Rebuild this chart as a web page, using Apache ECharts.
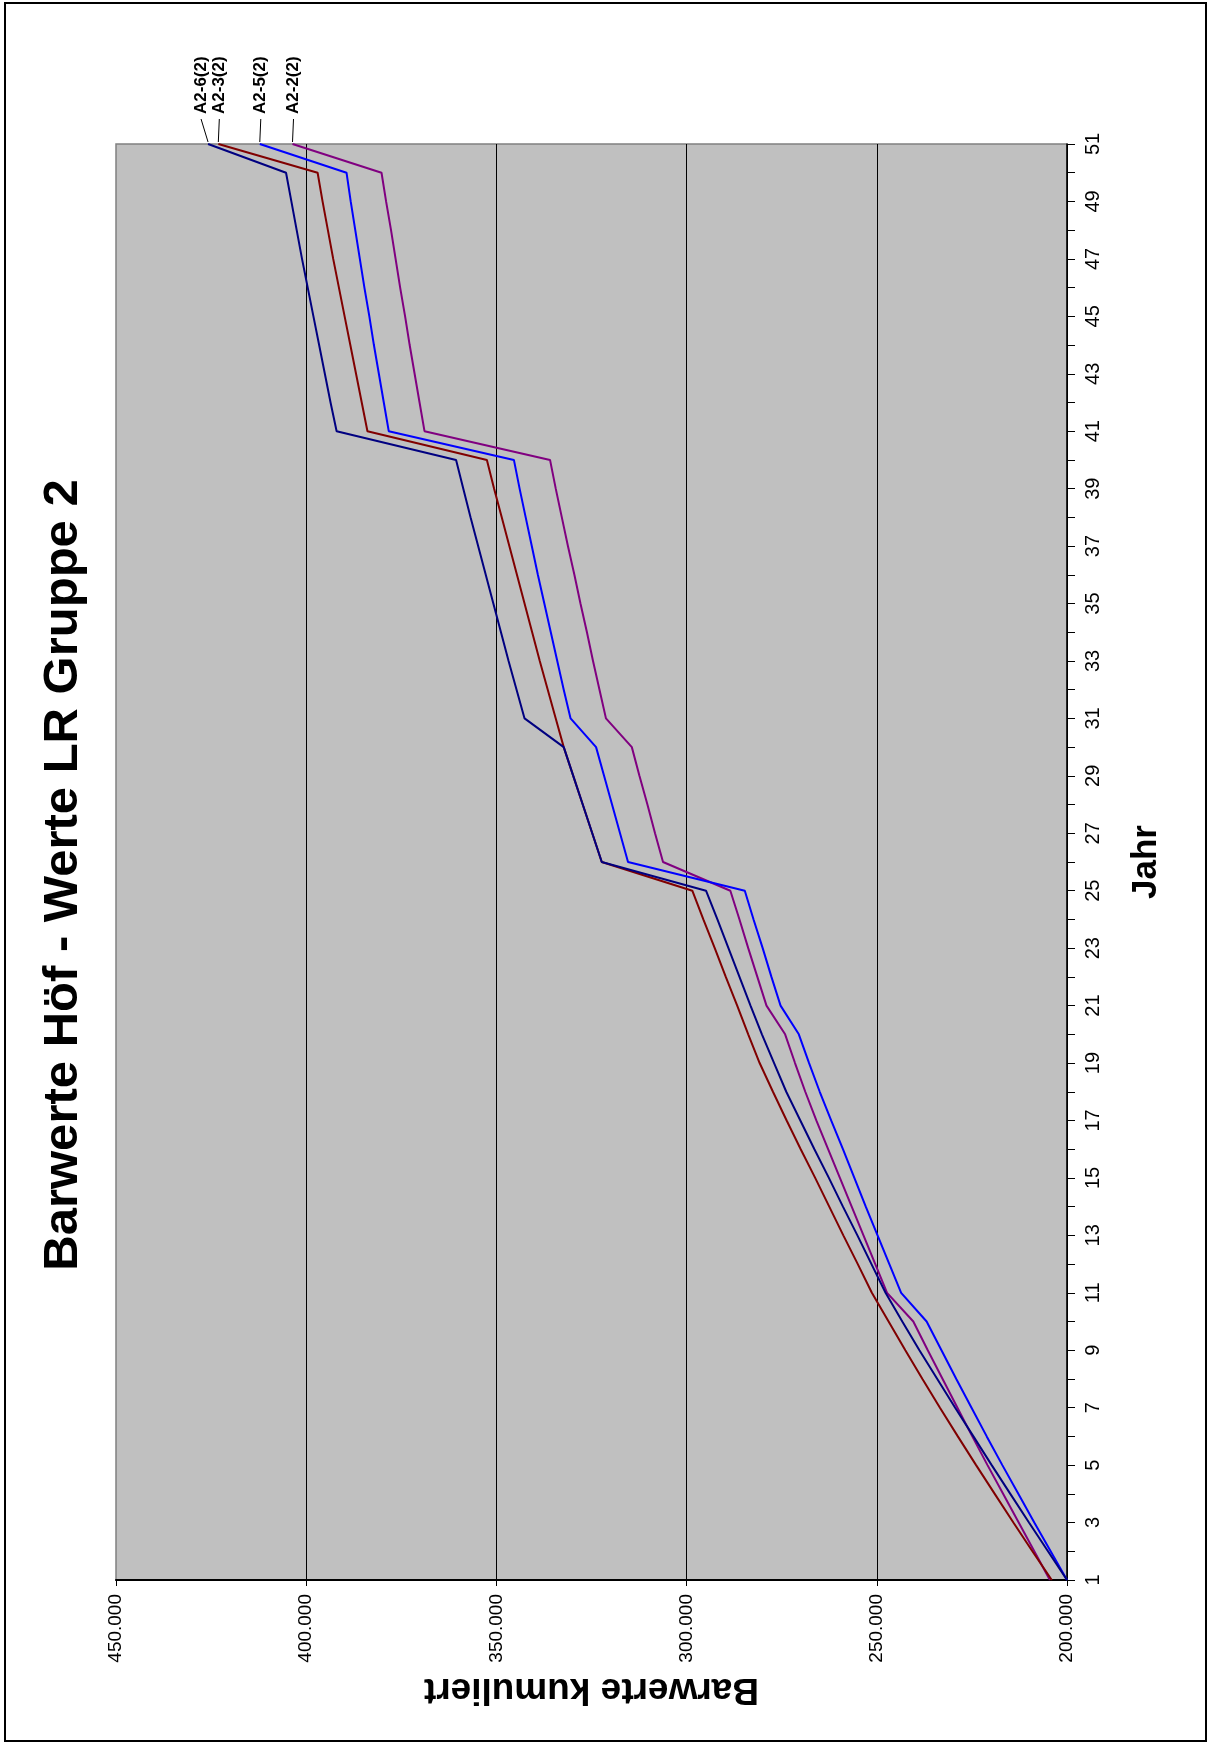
<!DOCTYPE html>
<html><head><meta charset="utf-8">
<script src="https://cdn.jsdelivr.net/npm/echarts@6/dist/echarts.min.js"></script>
<style>html,body{margin:0;padding:0;background:#fff}#c{width:1212px;height:1747px}</style>
</head><body><div id="c"></div><script>
const years = ['1','2','3','4','5','6','7','8','9','10','11','12','13','14','15','16','17','18','19','20','21','22','23','24','25','26','27','28','29','30','31','32','33','34','35','36','37','38','39','40','41','42','43','44','45','46','47','48','49','50','51'];
const valueTicks = [200000, 250000, 300000, 350000, 400000, 450000];

const a22 = [204500,208600,212700,216800,220900,224900,228800,232700,236600,240400,247300,250400,253500,256600,259700,262800,265900,268800,271500,274100,279000,281400,283800,286100,288500,306200,308300,310300,312400,314400,321200,322900,324600,326200,327900,329500,331200,332800,334400,335900,368900,370200,371500,372800,374000,375300,376500,377700,379000,380200,403600];
const a25 = [200000,204300,208600,212800,217000,221100,225100,229100,233000,236900,243600,246700,249800,252900,255900,258900,262000,265000,267800,270500,275300,277700,280000,282400,284700,315400,317500,319600,321700,323800,330500,332300,334000,335700,337400,339100,340700,342300,343900,345400,378300,379600,380900,382200,383400,384700,385900,387100,388300,389400,412200];
const a23 = [204000,209100,214100,219000,223900,228700,233400,238000,242500,246900,251300,255000,258800,262500,266200,270000,273700,277300,280800,283800,286700,289700,292600,295600,298500,322300,324800,327300,329800,332300,334400,336500,338600,340600,342600,344600,346600,348600,350600,352500,383900,385400,386900,388400,389900,391400,392900,394300,395700,397000,423100];
const a26 = [200000,205000,210000,214900,219800,224600,229400,234100,238800,243300,247700,251400,255100,258900,262600,266400,270100,273800,277000,280200,283200,286100,289000,291900,294900,322300,324800,327300,329800,332300,342600,344700,346800,348800,350800,352800,354800,356800,358700,360600,392000,393600,395100,396600,398100,399600,401100,402500,403900,405300,425800];

const seriesDefs = [
  {name:'A2-2(2)', data:a22, color:'#800080', labelDx:0},
  {name:'A2-5(2)', data:a25, color:'#0000FF', labelDx:0},
  {name:'A2-3(2)', data:a23, color:'#800000', labelDx:0},
  {name:'A2-6(2)', data:a26, color:'#000080', labelDx:-8}
];

const FONT = '"Liberation Sans", Arial, sans-serif';
const chart = echarts.init(document.getElementById('c'));
const option = {
  animation:false,
  backgroundColor:'#ffffff',
  grid:{left:116, right:145, top:144, bottom:167, show:true, backgroundColor:'#C0C0C0', borderColor:'#808080', borderWidth:1.5, containLabel:false},
  xAxis:{
    type:'value', inverse:true, position:'bottom',
    min:valueTicks[0], max:valueTicks[valueTicks.length-1], interval:50000,
    name:'Barwerte kumuliert', nameLocation:'middle', nameRotate:180, nameGap:78,
    nameTextStyle:{fontFamily:FONT, fontWeight:'bold', fontSize:37, color:'#000'},
    axisLine:{show:true, onZero:false, lineStyle:{color:'#000', width:2}},
    axisTick:{show:true, length:6, lineStyle:{color:'#000', width:1}},
    axisLabel:{rotate:90, margin:14, fontFamily:FONT, fontSize:19, color:'#000',
      formatter:v => (v/1000).toFixed(0) + '.000'},
    splitLine:{show:true, showMaxLine:false, lineStyle:{color:'#000', width:1}}
  },
  yAxis:{
    type:'category', data:years, position:'right', boundaryGap:false,
    name:'Jahr', nameLocation:'middle', nameRotate:90, nameGap:62,
    nameTextStyle:{fontFamily:FONT, fontWeight:'bold', fontSize:35, color:'#000'},
    axisLine:{show:true, onZero:false, lineStyle:{color:'#000', width:1.5}},
    axisTick:{show:true, interval:0, length:8, lineStyle:{color:'#000', width:1}},
    axisLabel:{interval:1, rotate:90, margin:16, fontFamily:FONT, fontSize:20, color:'#000'},
    splitLine:{show:false}
  },
  series: seriesDefs.map(s => ({
    type:'line', name:s.name, showSymbol:false, symbol:'none', silent:true,
    lineStyle:{color:s.color, width:2}, itemStyle:{color:s.color},
    data: s.data.map((v,i) => [v, years[i]])
  }))
};
chart.setOption(option);

const g = [
  {id:'frame', type:'rect', shape:{x:5, y:3, width:1201, height:1738}, style:{fill:'none', stroke:'#000', lineWidth:2}, z:0},
  {id:'title', type:'text', x:63, y:875, rotation:Math.PI/2,
    style:{text:'Barwerte Höf - Werte LR Gruppe 2', font:'bold 49px ' + FONT, fill:'#000', align:'center', verticalAlign:'middle', textAlign:'center', textVerticalAlign:'middle'}}
];
seriesDefs.forEach((s, k) => {
  const p = chart.convertToPixel({gridIndex:0}, [s.data[s.data.length-1], years[years.length-1]]);
  g.push({id:'ll'+k, type:'line', shape:{x1:p[0], y1:p[1]-2, x2:p[0]+s.labelDx+1, y2:p[1]-25}, style:{stroke:'#000', lineWidth:1}});
  g.push({id:'lt'+k, type:'text', x:p[0]+s.labelDx+1, y:p[1]-30, rotation:Math.PI/2,
    style:{text:s.name, font:'bold 17px ' + FONT, fill:'#000', align:'left', verticalAlign:'middle', textAlign:'left', textVerticalAlign:'middle'}});
});
chart.setOption({graphic:g});
</script></body></html>
